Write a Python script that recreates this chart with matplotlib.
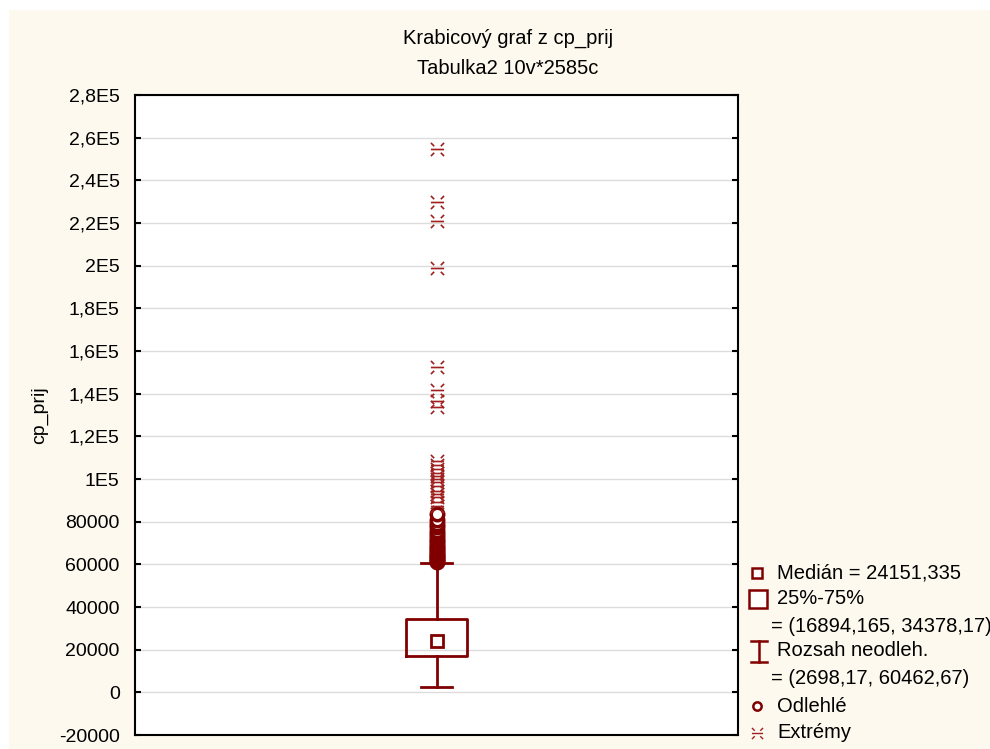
import numpy as np
import matplotlib
matplotlib.use('Agg')
import matplotlib.pyplot as plt
from matplotlib.path import Path
from matplotlib.patches import Rectangle

plt.rcParams['font.family'] = ['Liberation Sans', 'DejaVu Sans']

# box statistics (from the legend)
median = 24151.335
q1, q3 = 16894.165, 34378.17
whis_lo, whis_hi = 2698.17, 60462.67

# outliers (circles) and extremes
outliers = [61000, 61600, 62300, 63000, 63800, 64500, 65300, 66200, 67000,
            68000, 69200, 70300, 71500, 72600, 74000, 75500, 77300, 79000,
            80800, 83400]
extremes = [87500, 89000, 91400, 92800, 94200, 96500, 98400, 100000, 101200,
            103000, 104500, 106500, 108300, 133600, 136500, 141500, 152300,
            198800, 221000, 229700, 254500]

yticks = np.arange(-20000, 280001, 20000)
ytick_labels = ['-20000', '0', '20000', '40000', '60000', '80000', '1E5',
                '1,2E5', '1,4E5', '1,6E5', '1,8E5', '2E5', '2,2E5', '2,4E5',
                '2,6E5', '2,8E5']

title1 = 'Krabicový graf z cp_prij'
title2 = 'Tabulka2 10v*2585c'
ylabel = 'cp_prij'
legend_rows = [('median', 'Medián = 24151,335'),
               ('box', '25%-75%'),
               (None, '= (16894,165, 34378,17)'),
               ('whisker', 'Rozsah neodleh.'),
               (None, '= (2698,17, 60462,67)'),
               ('outlier', 'Odlehlé'),
               ('extreme', 'Extrémy')]

red = '#800000'
cream = '#fdf9ee'
W, H = 990, 749

# marker for extremes: four short diagonal arms + a horizontal bar
verts = [(-1, 1), (-0.5, 0.5), (1, 1), (0.5, 0.5),
         (-1, -1), (-0.5, -0.5), (1, -1), (0.5, -0.5),
         (-1, 0), (1, 0)]
codes = [Path.MOVETO, Path.LINETO] * 5
ext_marker = Path(verts, codes)

fig = plt.figure(figsize=(W / 100, H / 100), dpi=100, facecolor='white')
fig.add_artist(Rectangle((9 / W, 0), 1 - 9 / W, 1 - 10 / H,
                         transform=fig.transFigure, facecolor=cream,
                         edgecolor='none', zorder=-10))

ax = fig.add_axes([135 / W, 1 - 735 / H, 603 / W, 640 / H])
ax.set_facecolor('white')

stats = [dict(med=median, q1=q1, q3=q3, whislo=whis_lo, whishi=whis_hi, fliers=[])]
ax.bxp(stats, positions=[1], widths=0.2, capwidths=0.1, showfliers=False,
       boxprops=dict(color=red, linewidth=2),
       whiskerprops=dict(color=red, linewidth=2),
       capprops=dict(color=red, linewidth=2),
       medianprops=dict(linewidth=0))
ax.plot([1], [median], marker='s', markersize=9, markerfacecolor='white',
        markeredgecolor=red, markeredgewidth=2, linestyle='none', zorder=5)
ax.plot(np.ones(len(outliers)), outliers, marker='o', markersize=9,
        markerfacecolor='white', markeredgecolor=red, markeredgewidth=2.5,
        linestyle='none', zorder=4)
ax.plot(np.ones(len(extremes)), extremes, marker=ext_marker, markersize=9.5,
        color='#a02020', markeredgewidth=1.2, linestyle='none', zorder=4)

ax.set_xlim(0, 2)
ax.set_ylim(-20000, 280000)
ax.set_xticks([])
ax.set_yticks(yticks)
ax.set_yticklabels(ytick_labels)
ax.tick_params(axis='y', direction='in', length=4, width=1.5, right=True,
               labelsize=14, pad=11, colors='black')
ax.grid(axis='y', color='#dcdcdc', linewidth=1)
ax.set_axisbelow(True)
for s in ax.spines.values():
    s.set_linewidth(1.5)
    s.set_color('black')

fig.text(508 / W, 1 - 38 / H, title1, ha='center', va='center', fontsize=14.5)
fig.text(508 / W, 1 - 68 / H, title2, ha='center', va='center', fontsize=14.5)
fig.text(40 / W, 1 - 415 / H, ylabel, ha='center', va='center',
         rotation=90, fontsize=14)

# legend drawn by hand in pixel coordinates
lax = fig.add_axes([0, 0, 1, 1], facecolor='none')
lax.set_xlim(0, W)
lax.set_ylim(H, 0)
lax.axis('off')
row_y = [573, 599, 626, 651, 678, 706, 733]
for (kind, label), y in zip(legend_rows, row_y):
    tx = 777 if kind else 771
    lax.text(tx, y, label, ha='left', va='center', fontsize=14.5, clip_on=False)
    if kind == 'median':
        lax.plot([757], [y], marker='s', markersize=7, markerfacecolor='white',
                 markeredgecolor=red, markeredgewidth=1.8)
    elif kind == 'box':
        lax.plot([758], [y], marker='s', markersize=13, markerfacecolor='white',
                 markeredgecolor=red, markeredgewidth=1.8)
    elif kind == 'whisker':
        lax.plot([759, 759], [y - 10, y + 11], color=red, linewidth=1.8)
        lax.plot([751, 767], [y - 10, y - 10], color=red, linewidth=1.8)
        lax.plot([751, 767], [y + 11, y + 11], color=red, linewidth=1.8)
    elif kind == 'outlier':
        lax.plot([757], [y], marker='o', markersize=6, markerfacecolor='white',
                 markeredgecolor=red, markeredgewidth=1.8)
    elif kind == 'extreme':
        lax.plot([757], [y], marker=ext_marker, markersize=8, color='#a02020',
                 markeredgewidth=1)

fig.savefig('out.png', dpi=100, facecolor='white')
